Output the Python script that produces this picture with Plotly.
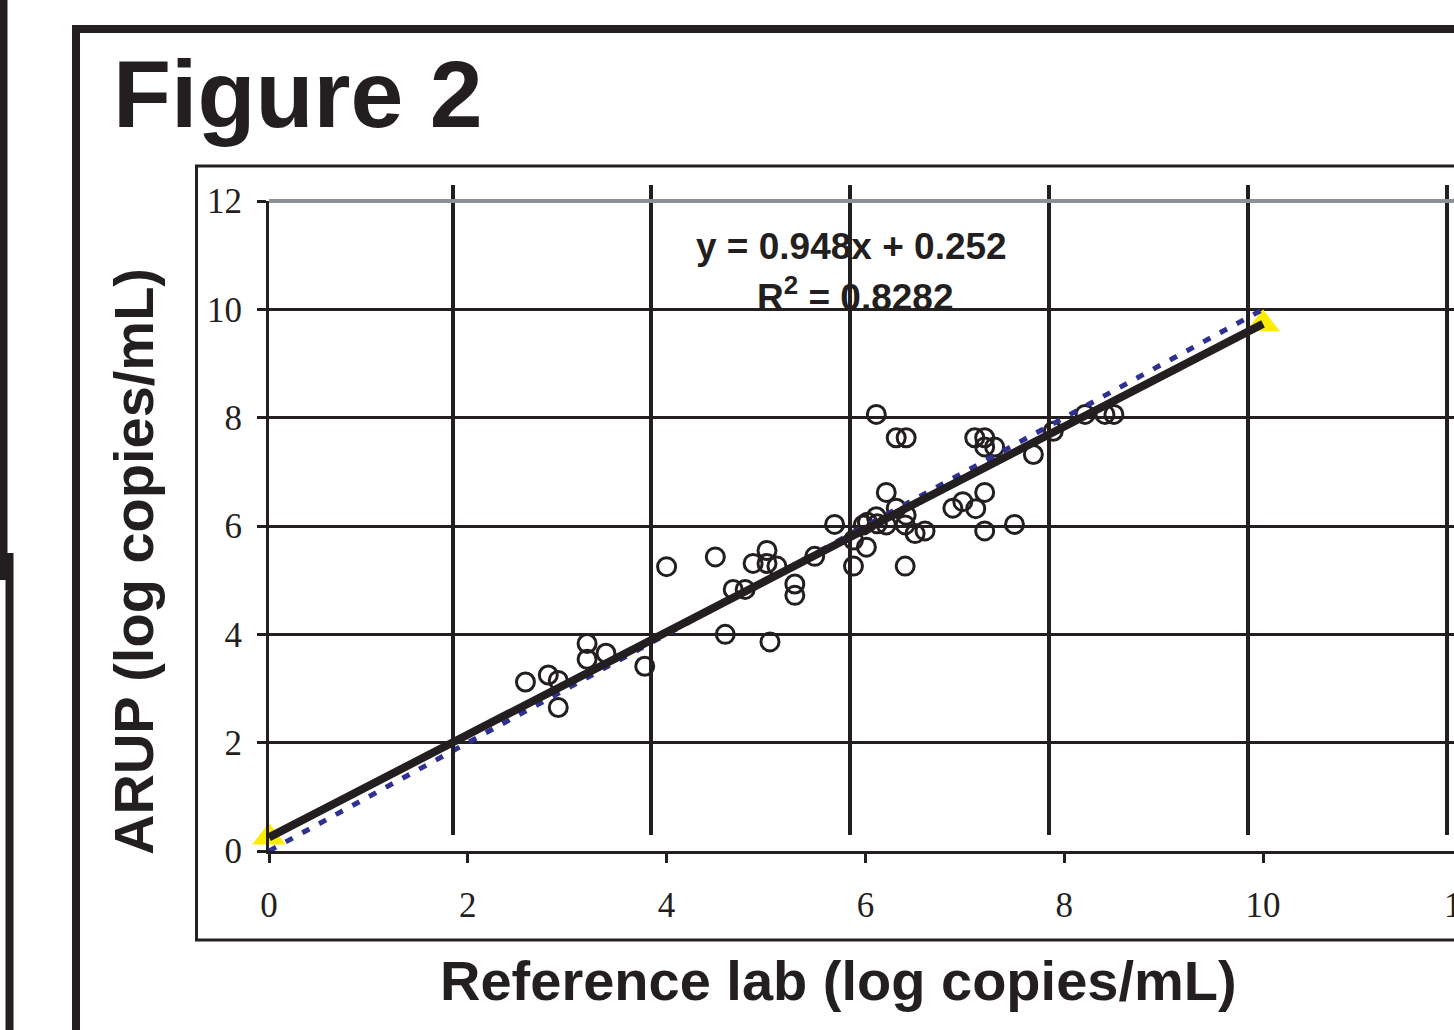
import plotly.graph_objects as go

# ---------------- data ----------------
ref_lab = [2.58, 2.81, 2.91, 2.91, 3.20, 3.20, 3.39, 3.78,
           4.00, 4.49, 4.59, 4.67, 4.79, 4.87, 5.01, 5.01, 5.11, 5.04, 5.29, 5.29, 5.49,
           5.69, 5.88, 5.88, 6.01, 5.98, 6.02, 6.11, 6.12, 6.21, 6.31, 6.41, 6.40, 6.50, 6.60,
           6.40, 6.21, 6.11, 6.31, 6.41, 7.10, 7.20, 7.20, 7.30, 7.69, 7.89, 8.21, 8.41, 8.50,
           7.20, 6.88, 6.98, 7.11, 7.20, 7.50]
arup = [3.12, 3.25, 3.15, 2.65, 3.83, 3.54, 3.65, 3.41,
        5.25, 5.43, 4.00, 4.83, 4.83, 5.31, 5.55, 5.31, 5.26, 3.86, 4.93, 4.72, 5.44,
        6.03, 5.26, 5.74, 5.61, 6.02, 6.07, 6.17, 6.04, 6.02, 6.33, 6.20, 6.02, 5.86, 5.91,
        5.26, 6.62, 8.06, 7.63, 7.63, 7.63, 7.63, 7.46, 7.46, 7.32, 7.75, 8.06, 8.06, 8.06,
        6.62, 6.33, 6.45, 6.32, 5.91, 6.03]

fit_x = [0, 10]
fit_y = [0.252, 9.732]          # y = 0.948x + 0.252
identity_x = [0, 10]
identity_y = [0, 10]

x_ticks = [0, 2, 4, 6, 8, 10]
y_ticks = [0, 2, 4, 6, 8, 10, 12]
shifted_grid_ticks = [2, 4, 6, 8, 10, 12]

title_text = "Figure 2"
x_title = "Reference lab (log copies/mL)"
y_title = "ARUP (log copies/mL)"
eq_text = "y = 0.948x + 0.252"
r2_text = "R<sup>2</sup> = 0.8282"

# ---------------- layout geometry ----------------
W, H = 1454, 1030
INK = "#231F20"
X0_PX, Y0_PX, YTOP_PX = 269, 851, 201
PX_PER_X = 99.4
GRID_DX, GRID_DY = 15.2, 16     # misregistered vertical grid layer


def px(xp):
    return xp / W


def py(yp):
    return 1 - yp / H


x_max = (W - X0_PX) / PX_PER_X
x2_start = X0_PX - GRID_DX
x2_max = (W - x2_start) / PX_PER_X

fig = go.Figure()

fig.add_trace(go.Scatter(x=fit_x, y=fit_y, mode="markers", cliponaxis=False,
                         marker=dict(symbol="triangle-up", size=29, color="#FFEC00"),
                         showlegend=False, hoverinfo="skip"))
fig.add_trace(go.Scatter(x=ref_lab, y=arup, mode="markers",
                         marker=dict(symbol="circle-open", size=18, color=INK,
                                     line=dict(width=3, color=INK)),
                         showlegend=False))
fig.add_trace(go.Scatter(x=identity_x, y=identity_y, mode="lines",
                         line=dict(color="#2E3192", width=5, dash="8px,11px"),
                         showlegend=False, hoverinfo="skip"))
fig.add_trace(go.Scatter(x=fit_x, y=fit_y, mode="lines",
                         line=dict(color=INK, width=8),
                         showlegend=False, hoverinfo="skip"))
# empty trace to realise the (misregistered) vertical grid layer
fig.add_trace(go.Scatter(x=[], y=[], xaxis="x2", yaxis="y2",
                         showlegend=False, hoverinfo="skip"))

tickfont = dict(family="Liberation Serif", size=35, color=INK)

fig.update_layout(
    width=W, height=H,
    margin=dict(l=0, r=0, t=0, b=0, pad=0, autoexpand=False),
    paper_bgcolor="white", plot_bgcolor="rgba(0,0,0,0)",
    xaxis=dict(domain=[px(X0_PX), 1], range=[0, x_max], tickvals=x_ticks,
               showgrid=False, zeroline=False, showline=True, linecolor=INK, linewidth=3,
               ticks="outside", ticklen=9, tickwidth=3, tickcolor=INK,
               tickfont=tickfont, ticklabelstandoff=12, automargin=False, anchor="y"),
    yaxis=dict(domain=[py(Y0_PX), py(YTOP_PX)], range=[0, 12], tickvals=y_ticks,
               showgrid=True, gridcolor=INK, gridwidth=3, zeroline=False,
               showline=True, linecolor=INK, linewidth=3,
               ticks="outside", ticklen=9, tickwidth=3, tickcolor=INK,
               tickfont=tickfont, ticklabelstandoff=8, automargin=False, anchor="x"),
    xaxis2=dict(domain=[px(x2_start), 1], range=[0, x2_max], tickvals=shifted_grid_ticks,
                showgrid=True, gridcolor=INK, gridwidth=3.5, zeroline=False,
                showline=False, showticklabels=False, ticks="", anchor="y2",
                automargin=False),
    yaxis2=dict(domain=[py(Y0_PX - GRID_DY), py(YTOP_PX - GRID_DY)], range=[0, 12],
                showgrid=False, zeroline=False, showline=False, showticklabels=False,
                ticks="", anchor="x2", automargin=False),
    showlegend=False,
)

shapes = [
    # outer page frame
    dict(type="rect", xref="paper", yref="paper",
         x0=px(76), y0=py(29), x1=px(W + 30), y1=py(H + 30),
         line=dict(color=INK, width=8), fillcolor="rgba(0,0,0,0)", layer="below"),
    # neighbouring frames at the far left
    dict(type="line", xref="paper", yref="paper",
         x0=px(3.5), y0=py(-10), x1=px(3.5), y1=py(580),
         line=dict(color=INK, width=8)),
    dict(type="path", xref="paper", yref="paper",
         path=f"M {px(-10)} {py(557)} L {px(9.5)} {py(557)} L {px(9.5)} {py(H + 20)}",
         line=dict(color=INK, width=8)),
    # chart box
    dict(type="rect", xref="paper", yref="paper",
         x0=px(196.5), y0=py(166), x1=px(W + 30), y1=py(940),
         line=dict(color=INK, width=3), fillcolor="rgba(0,0,0,0)", layer="below"),
    # grey top gridline
    dict(type="line", xref="paper", yref="paper",
         x0=px(X0_PX), y0=py(YTOP_PX), x1=1, y1=py(YTOP_PX),
         line=dict(color="#8A9197", width=4), layer="above"),
]
fig.update_layout(shapes=shapes)

annotations = [
    dict(text=f"<b>{title_text}</b>", xref="paper", yref="paper",
         x=px(111), y=py(94), xanchor="left", yanchor="middle", showarrow=False,
         font=dict(family="Liberation Sans", size=95, color=INK)),
    dict(text=f"<b>{eq_text}</b>", xref="paper", yref="paper",
         x=px(851), y=py(247), xanchor="center", yanchor="middle", showarrow=False,
         font=dict(family="Liberation Sans", size=37, color=INK)),
    dict(text=f"<b>{r2_text}</b>", xref="paper", yref="paper",
         x=px(855), y=py(294), xanchor="center", yanchor="middle", showarrow=False,
         font=dict(family="Liberation Sans", size=37, color=INK)),
    dict(text=f"<b>{x_title}</b>", xref="paper", yref="paper",
         x=px(838), y=py(980), xanchor="center", yanchor="middle", showarrow=False,
         font=dict(family="Liberation Sans", size=56, color=INK)),
    dict(text=f"<b>{y_title}</b>", xref="paper", yref="paper", textangle=-90,
         x=px(133), y=py(562), xanchor="center", yanchor="middle", showarrow=False,
         font=dict(family="Liberation Sans", size=56, color=INK)),
    # x tick label "12" falls beyond the visible edge
    dict(text="12", xref="paper", yref="paper",
         x=px(X0_PX + 12 * PX_PER_X), y=py(905), xanchor="center", yanchor="middle",
         showarrow=False, font=tickfont),
]
fig.update_layout(annotations=annotations)

fig.write_html("out.html", config={"displayModeBar": False})
